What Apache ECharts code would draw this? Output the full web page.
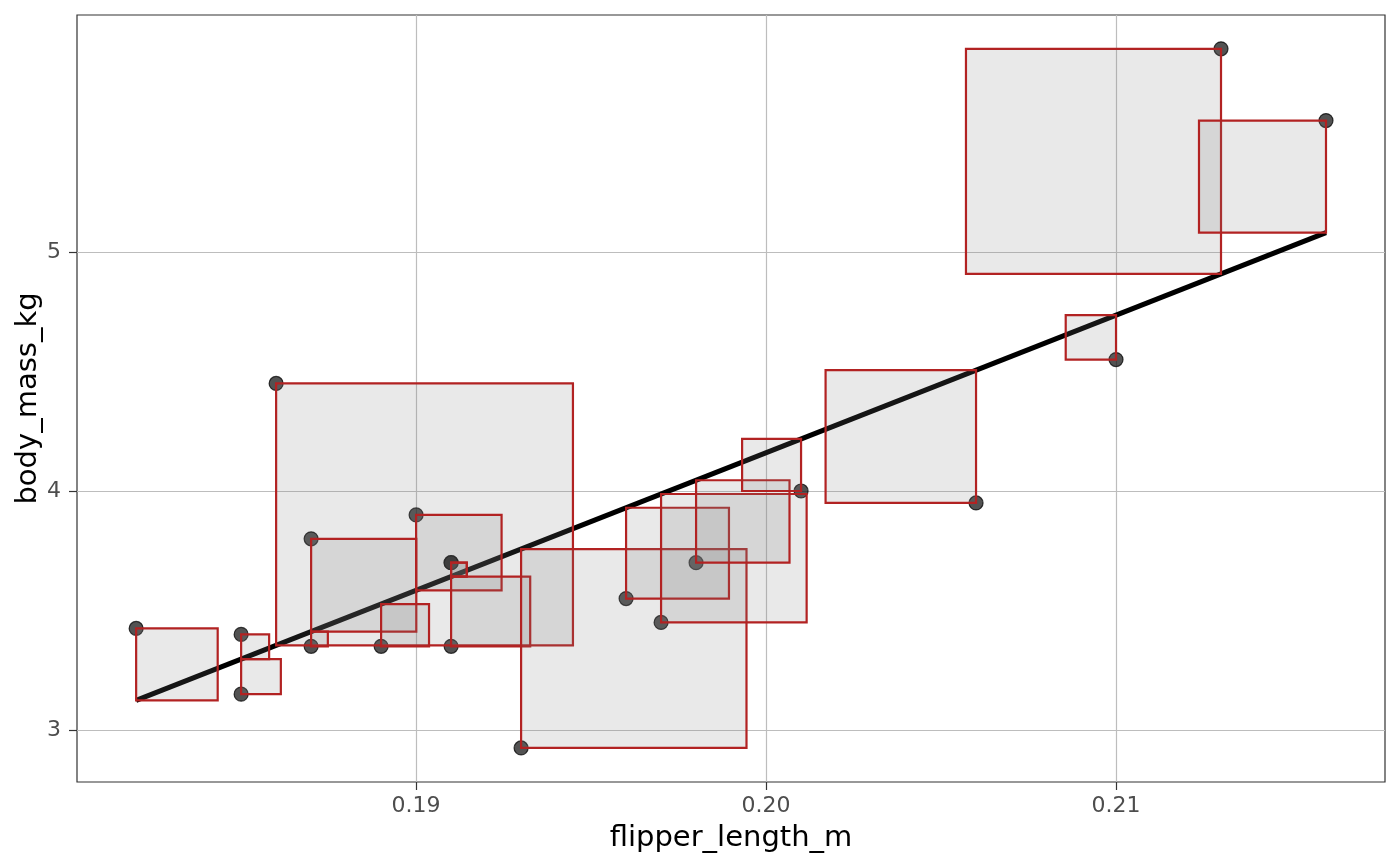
<!DOCTYPE html>
<html>
<head>
<meta charset="utf-8">
<script src="https://cdn.jsdelivr.net/npm/echarts@6/dist/echarts.min.js"></script>
<style>
html,body{margin:0;padding:0;background:#fff;}
#chart{width:1400px;height:866px;}
</style>
</head>
<body>
<div id="chart"></div>
<script>
// ---- data ----
const flipper_length_m = [0.182,0.185,0.185,0.186,0.187,0.187,0.189,0.190,0.191,0.191,0.191,0.193,0.196,0.197,0.198,0.201,0.206,0.210,0.213,0.216];
const body_mass_kg     = [3.425,3.40,3.15,4.45,3.80,3.35,3.35,3.90,3.70,3.70,3.35,2.925,3.55,3.45,3.70,4.00,3.95,4.55,5.85,5.55];
const xTicks = [0.19, 0.20, 0.21];
const yTicks = [3, 4, 5];
const xTitle = 'flipper_length_m';
const yTitle = 'body_mass_kg';

// ---- least-squares fit ----
const n = flipper_length_m.length;
const mx = flipper_length_m.reduce((a,b)=>a+b,0)/n;
const my = body_mass_kg.reduce((a,b)=>a+b,0)/n;
let sxx = 0, sxy = 0;
for (let i = 0; i < n; i++) {
  sxx += (flipper_length_m[i]-mx)**2;
  sxy += (flipper_length_m[i]-mx)*(body_mass_kg[i]-my);
}
const slope = sxy/sxx;
const intercept = my - slope*mx;
const xMin = Math.min(...flipper_length_m), xMax = Math.max(...flipper_length_m);
const midX = (xMin + xMax)/2;
const widthRatio = 0.00774; // x-units per y-unit of residual square side

const points = flipper_length_m.map((x,i)=>[x, body_mass_kg[i]]);
const fitLine = [[xMin, intercept + slope*xMin], [xMax, intercept + slope*xMax]];

const chart = echarts.init(document.getElementById('chart'));
const font = 'DejaVu Sans';
chart.setOption({
  animation: false,
  backgroundColor: '#ffffff',
  grid: {left: 77, right: 15, top: 15, bottom: 84, show: true, borderColor: '#333333', borderWidth: 1.2,
    backgroundColor: 'transparent', containLabel: false, outerBoundsMode: 'none'},
  xAxis: {
    type: 'value', min: 0.18031, max: 0.217686,
    name: xTitle, nameLocation: 'middle', nameGap: 42, nameMoveOverlap: false,
    nameTextStyle: {fontFamily: font, fontSize: 29, color: '#000'},
    axisLine: {show: false},
    axisTick: {show: true, length: 8, customValues: xTicks, lineStyle: {color: '#333', width: 1.2}},
    axisLabel: {customValues: xTicks, fontFamily: font, fontSize: 22, color: '#4D4D4D', margin: 13,
      formatter: v => v.toFixed(2)},
    splitLine: {show: true, lineStyle: {color: '#BDBDBD', width: 1.2}}
  },
  yAxis: {
    type: 'value', min: 2.7824, max: 5.9916,
    name: yTitle, nameLocation: 'middle', nameGap: 34, nameMoveOverlap: false,
    nameTextStyle: {fontFamily: font, fontSize: 29, color: '#000'},
    axisLine: {show: false},
    axisTick: {show: true, length: 8, customValues: yTicks, lineStyle: {color: '#333', width: 1.2}},
    axisLabel: {customValues: yTicks, fontFamily: font, fontSize: 22, color: '#4D4D4D', margin: 16,
      formatter: v => String(Math.round(v))},
    splitLine: {show: true, lineStyle: {color: '#BDBDBD', width: 1.2}}
  },
  series: [
    {
      type: 'line', data: fitLine, z: 2, symbol: 'none', silent: true,
      lineStyle: {color: '#000', width: 5}
    },
    {
      type: 'scatter', data: points, z: 3, symbolSize: 14, silent: true,
      itemStyle: {color: 'rgba(15,15,15,0.72)', borderColor: 'rgba(0,0,0,0.75)', borderWidth: 1.2, opacity: 1}
    },
    {
      type: 'custom', data: points, z: 4, silent: true,
      renderItem: function(params, api) {
        const x = api.value(0), y = api.value(1);
        const fit = intercept + slope*x;
        const side = Math.abs(y - fit);
        const dir = x < midX ? 1 : -1;
        const x2 = x + dir*side*widthRatio;
        const p1 = api.coord([x, y]);
        const p2 = api.coord([x2, fit]);
        return {
          type: 'rect',
          shape: {x: Math.min(p1[0],p2[0]), y: Math.min(p1[1],p2[1]), width: Math.abs(p2[0]-p1[0]), height: Math.abs(p2[1]-p1[1])},
          style: {fill: 'rgba(127,127,127,0.17)', stroke: '#B22222', lineWidth: 2.2}
        };
      }
    }
  ]
});
</script>
</body>
</html>
